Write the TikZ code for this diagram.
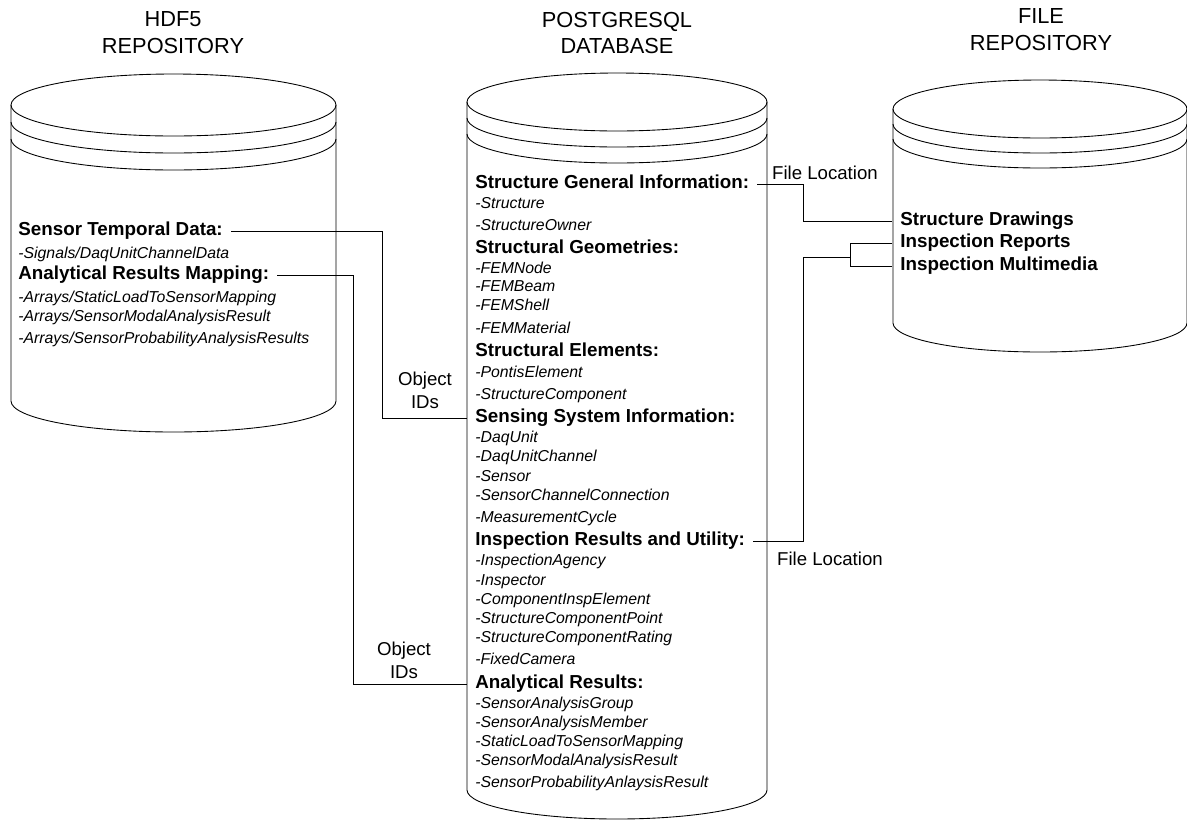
\documentclass[tikz,border=0pt]{standalone}
\usepackage{fontspec}
\setmainfont{Liberation Sans}

\begin{document}
\begin{tikzpicture}[x=0.02cm, y=-0.02cm, line width=0.5pt,
    title/.style={align=center, inner sep=0pt, font=\fontsize{12.4}{15.3}\selectfont},
    head/.style={anchor=west, inner xsep=4.5pt, inner ysep=0pt, text height=7.7pt, text depth=2.2pt,
                 font=\bfseries\fontsize{10.7}{12}\selectfont},
    item/.style={anchor=west, inner xsep=4.5pt, inner ysep=0pt, text height=6.4pt, text depth=1.9pt,
                 font=\itshape\fontsize{9}{10}\selectfont},
    lbl/.style={align=center, inner sep=0pt, font=\fontsize{10.6}{13}\selectfont}]

    \useasboundingbox (0,0) rectangle (1187,819);

    \def\dbcyl#1#2#3#4{
      \draw (0,0) ellipse[x radius=#1, y radius=#2];
      \draw (-#1,#3)   arc[start angle=180, end angle=0, x radius=#1, y radius=#2];
      \draw (-#1,2*#3) arc[start angle=180, end angle=0, x radius=#1, y radius=#2];
      \draw (-#1,0) -- (-#1,#4) arc[start angle=180, end angle=0, x radius=#1, y radius=#2] -- (#1,0);
    }

    % the three stores
    \begin{scope}[ shift = ({ 173.5 , 105 }) ] \dbcyl{162.5}{31}{17}{296} \end{scope}
    \begin{scope}[ shift = ({ 617 , 102 }) ]   \dbcyl{150}{29}{16}{688}   \end{scope}
    \begin{scope}[ shift = ({ 1040 , 109 }) ]  \dbcyl{147}{29}{15}{214}   \end{scope}

    \node[title] (hdfT) at (173,33)  {HDF5\\REPOSITORY};
    \node[title] (pgT)  at (617,33)  {POSTGRESQL\\DATABASE};
    \node[title] (fileT) at (1041,30) {FILE\\REPOSITORY};

    % hdf5 contents
    \node[head] (std) at (10,231) {Sensor Temporal Data:};
    \node[head] (arm) at (10,275) {Analytical Results Mapping:};
    \foreach \ty/\txt in {255/{Signals/DaqUnitChannelData}, 299/{Arrays/StaticLoadToSensorMapping},
                          318/{Arrays/SensorModalAnalysisResult}, 340/{Arrays/SensorProbabilityAnalysisResults}}
      \node[item] (hdf\ty) at (10,\ty) {-\txt};

    % postgres contents
    \node[head] (sgi) at (467,184) {Structure General Information:};
    \node[head] (sg)  at (467,249) {Structural Geometries:};
    \node[head] (se)  at (467,352) {Structural Elements:};
    \node[head] (ssi) at (467,418) {Sensing System Information:};
    \node[head] (iru) at (467,541) {Inspection Results and Utility:};
    \node[head] (ar)  at (467,684) {Analytical Results:};
    \foreach \ty/\txt in {205/Structure, 227/StructureOwner,
                          270/FEMNode, 288/FEMBeam, 307/FEMShell, 330/FEMMaterial,
                          374/PontisElement, 396/StructureComponent,
                          439/DaqUnit, 458/DaqUnitChannel, 478/Sensor, 497/SensorChannelConnection, 519/MeasurementCycle,
                          562/InspectionAgency, 582/Inspector, 601/ComponentInspElement, 620/StructureComponentPoint,
                          639/StructureComponentRating, 661/FixedCamera,
                          705/SensorAnalysisGroup, 724/SensorAnalysisMember, 743/StaticLoadToSensorMapping,
                          762/SensorModalAnalysisResult, 784/SensorProbabilityAnlaysisResult}
      \node[item] (pg\ty) at (467,\ty) {-\txt};

    % file repository contents
    \node[head] (sd) at (892,221) {Structure Drawings};
    \node[head] (ir) at (892,243) {Inspection Reports};
    \node[head] (im) at (892,266) {Inspection Multimedia};

    % links
    \coordinate (oidA) at (382,0);
    \coordinate (oidB) at (353,0);
    \coordinate (flA)  at (803,0);
    \coordinate (brk)  at (850,257);

    \draw (std.east) -| (oidA |- ssi.west) -- (ssi.west);
    \draw (arm.east) -| (oidB |- ar.west) -- (ar.west);
    \draw (sgi.east) -| (flA |- sd.west) -- (sd.west);
    \draw (iru.east) -| (flA |- brk) -- (brk);
    \draw (ir.west) -| (brk |- im.west) -- (im.west);

    \node[lbl] (oidAl) at (425,390) {Object\\IDs};
    \node[lbl] (oidBl) at (404,660) {Object\\IDs};
    \node[lbl] (flAl)  at (825,173) {File Location};
    \node[lbl] (flBl)  at (830,559) {File Location};

\end{tikzpicture}
\end{document}
